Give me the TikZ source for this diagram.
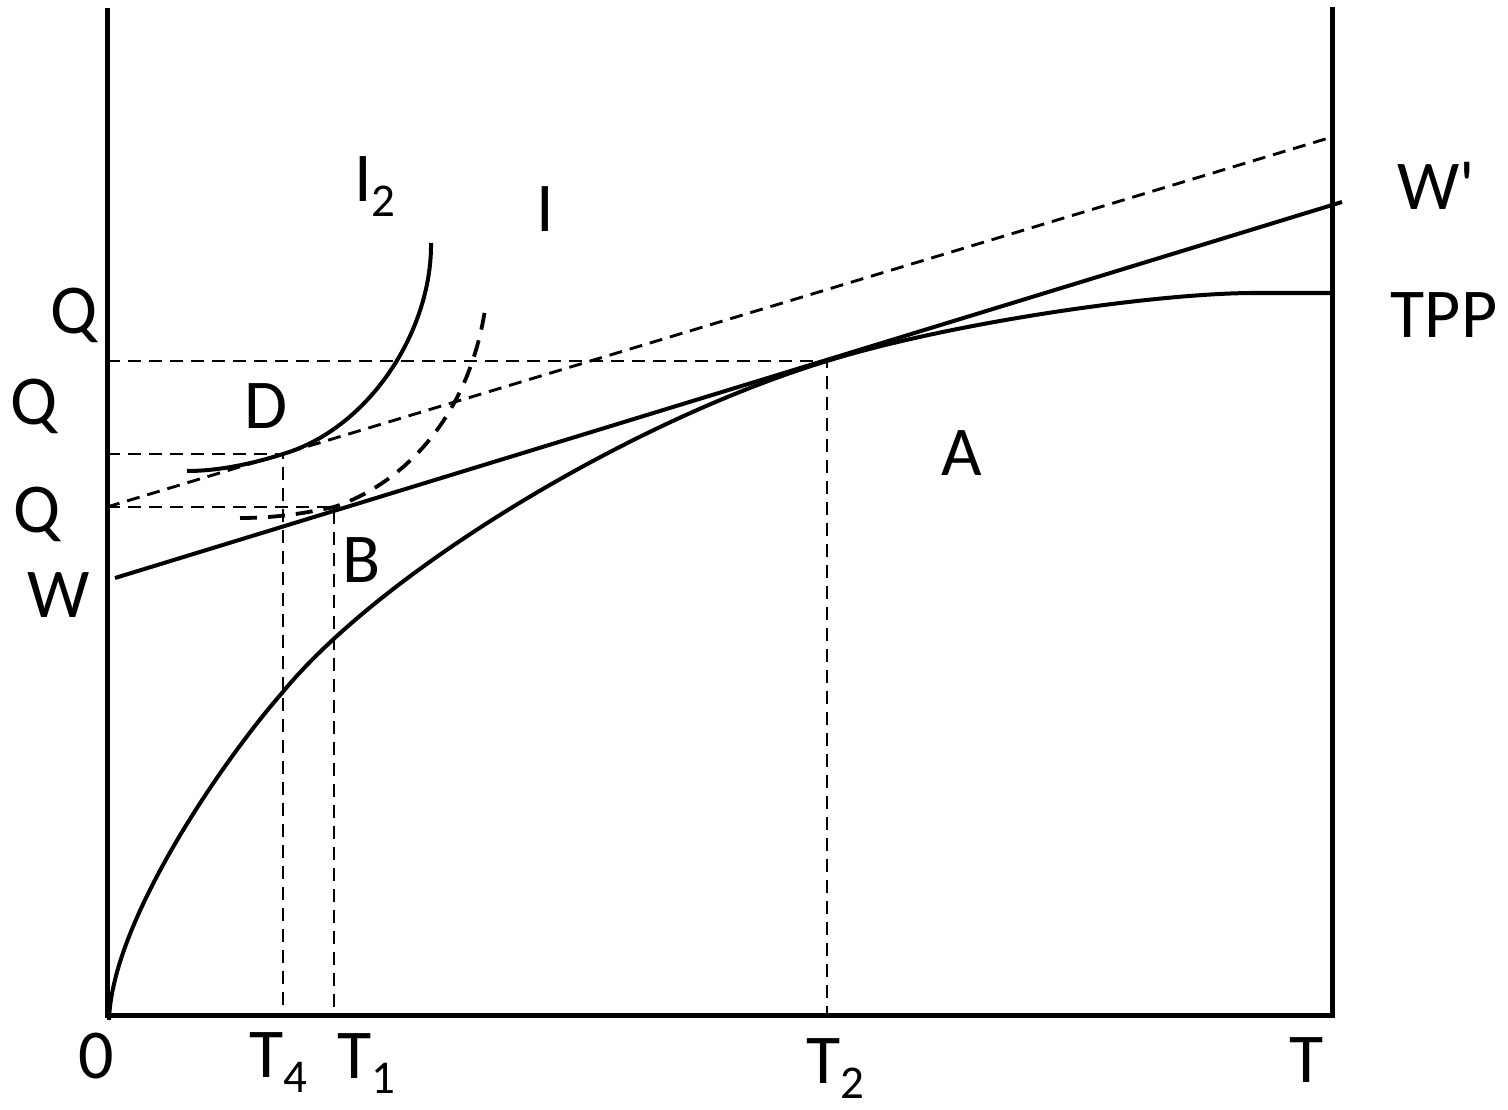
\documentclass[tikz,border=0pt]{standalone}
\usepackage{fontspec}
\setmainfont{Carlito}[Ligatures=TeXOff]
\newcommand{\sbx}[1]{\raisebox{-15pt}{\fontsize{47}{50}\selectfont #1}}
\begin{document}
\begin{tikzpicture}[x=1pt,y=-1pt,
  axis/.style={line width=5pt, line join=miter},
  curve/.style={line width=4pt},
  guide/.style={line width=2.9pt, dash pattern=on 13pt off 8pt},
  icurve/.style={line width=3.8pt, dash pattern=on 17pt off 11pt},
  lab/.style={inner sep=0pt, anchor=base, font=\fontsize{70}{80}\selectfont},
  labw/.style={lab, anchor=base west},
]
\useasboundingbox (0,0) rectangle (1508,1110);
% key points
\coordinate (Otop) at (107,8);
\coordinate (O) at (107,1015);
\coordinate (Tax) at (1332,1015);
\coordinate (Ttop) at (1332,7);
\coordinate (Q1) at (107,361);
\coordinate (E) at (827,361);
\coordinate (T2) at (827,1015);
\coordinate (Q2) at (107,454);
\coordinate (D) at (283,454);
\coordinate (T4) at (283,1015);
\coordinate (Q3) at (107,507);
\coordinate (B) at (334,507);
\coordinate (T1) at (334,1015);
\coordinate (Ws) at (115,578);
\coordinate (We) at (1342,202);
\coordinate (Wpe) at (1332,137);
\coordinate (C0) at (109,1020);
\coordinate (C1) at (282,693);
\coordinate (C3) at (1250,293);
\coordinate (C4) at (1332,293);
\coordinate (I2s) at (187,471);
\coordinate (I2e) at (431,243);
\coordinate (Is) at (240,518);
\coordinate (Ie) at (486,303);

% axes
\draw[axis] (Otop) -- (O) -- (Tax) -- (Ttop);

% guides
\draw[guide] (Q1) -- (E) -- (T2);
\draw[guide] (Q2) -- (D) -- (T4);
\draw[guide] (Q3) -- (B) -- (T1);
\draw[guide] (Q3) -- (Wpe);

% budget line W
\draw[curve] (Ws) -- (We);

% TPP
\draw[curve] (C0) .. controls (112,920) and (225,758) .. (C1)
  .. controls (380,573) and (627,422) .. (E)
  .. controls (950,323) and (1150,294) .. (C3) -- (C4);

% indifference curves
\draw[curve] (I2s) .. controls (220,471) and (255,463) .. (D)
  .. controls (370,428) and (432,330) .. (I2e);
\draw[icurve] (Is) .. controls (280,518) and (310,512) .. (B)
  .. controls (400,485) and (470,420) .. (Ie);

% labels
\node[lab] (lQ1) at (74,334) {Q};
\node[lab] (lQ2) at (34,424) {Q};
\node[lab] (lQ3) at (37,532) {Q};
\node[lab] (lW) at (59,617) {W};
\node[lab] (lD) at (266,428) {D};
\node[lab] (lB) at (362,582) {B};
\node[lab] (lA) at (962,475) {A};
\node[labw] (lI2) at (354,202) {I\sbx{2}};
\node[lab] (lI) at (545,232) {I};
\node[lab] (lWp) at (1436,210) {W'};
\node[lab] (lTPP) at (1444,337) {TPP};
\node[lab] (l0) at (96,1078) {0};
\node[labw] (lT4) at (249,1077) {T\sbx{4}};
\node[labw] (lT1) at (337,1078) {T\sbx{1}};
\node[labw] (lT2) at (806,1083) {T\sbx{2}};
\node[lab] (lT) at (1307,1082) {T};
\end{tikzpicture}
\end{document}
